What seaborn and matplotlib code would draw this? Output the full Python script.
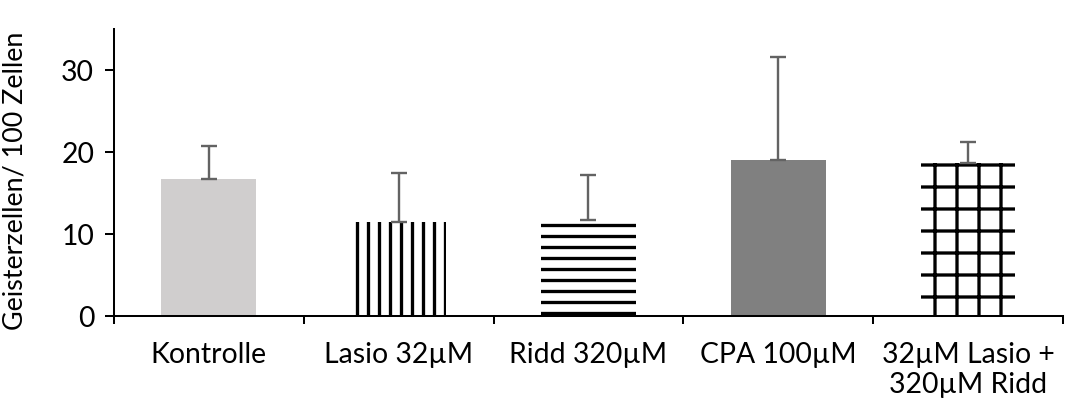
import matplotlib
matplotlib.use("Agg")
import matplotlib.pyplot as plt
import seaborn as sns
import numpy as np
import pandas as pd

# Data
categories = ["Kontrolle", "Lasio 32µM", "Ridd 320µM", "CPA 100µM", "32µM Lasio +\n320µM Ridd"]
means = [16.7, 11.5, 11.7, 19.0, 18.7]
errors = [4.1, 5.9, 5.5, 12.6, 2.5]
y_ticks = [0, 10, 20, 30]

fills = ["#D0CECE", "white", "white", "#808080", "white"]
hatches = [None, "||", "--", None, "+"]

DPI = 132
sns.set_theme(style="white")
plt.rcParams["font.family"] = ["Lato", "DejaVu Sans"]
plt.rcParams["hatch.linewidth"] = 1.8
plt.rcParams["hatch.color"] = "black"

fig = plt.figure(figsize=(1065 / DPI, 409 / DPI), dpi=DPI)
ax = fig.add_axes([0.107, 0.227, 0.891, 0.702])

df = pd.DataFrame({"Gruppe": categories, "Wert": means})
sns.barplot(data=df, x="Gruppe", y="Wert", hue="Gruppe", palette=fills,
            width=0.5, legend=False, ax=ax, errorbar=None, linewidth=0,
            saturation=1)

for patch, h in zip(ax.patches, hatches):
    if h:
        patch.set_hatch(h)
        patch.set_edgecolor("black")
        patch.set_linewidth(0)

x = np.arange(len(categories))
ax.errorbar(x, means, yerr=[np.zeros(len(errors)), errors], fmt="none",
            ecolor="#636363", elinewidth=1.3, capsize=4.5, capthick=1.3, zorder=3)

ax.set_ylim(0, 35)
ax.set_xlim(-0.5, len(categories) - 0.5)
ax.set_yticks(y_ticks)
ax.set_xticks(x)
ax.set_xticklabels(categories, linespacing=1.22)
ax.set_xticks(np.arange(len(categories) + 1) - 0.5, minor=True)

ax.tick_params(axis="x", which="major", length=0, pad=14, labelsize=15.5, colors="black")
ax.tick_params(axis="x", which="minor", length=4.5, width=1.1, direction="out", color="black", bottom=True)
ax.tick_params(axis="y", which="major", length=4.8, width=1.1, direction="out", left=True,
               labelsize=15.5, pad=6, colors="black")

for side in ["top", "right"]:
    ax.spines[side].set_visible(False)
for side in ["left", "bottom"]:
    ax.spines[side].set_color("black")
    ax.spines[side].set_linewidth(1.1)

ax.set_xlabel("")
ax.set_ylabel("Geisterzellen/ 100 Zellen", fontsize=14.7, color="black")
ax.yaxis.set_label_coords(-0.091, 0.47)

fig.savefig("out.png", dpi=DPI, facecolor="white")
